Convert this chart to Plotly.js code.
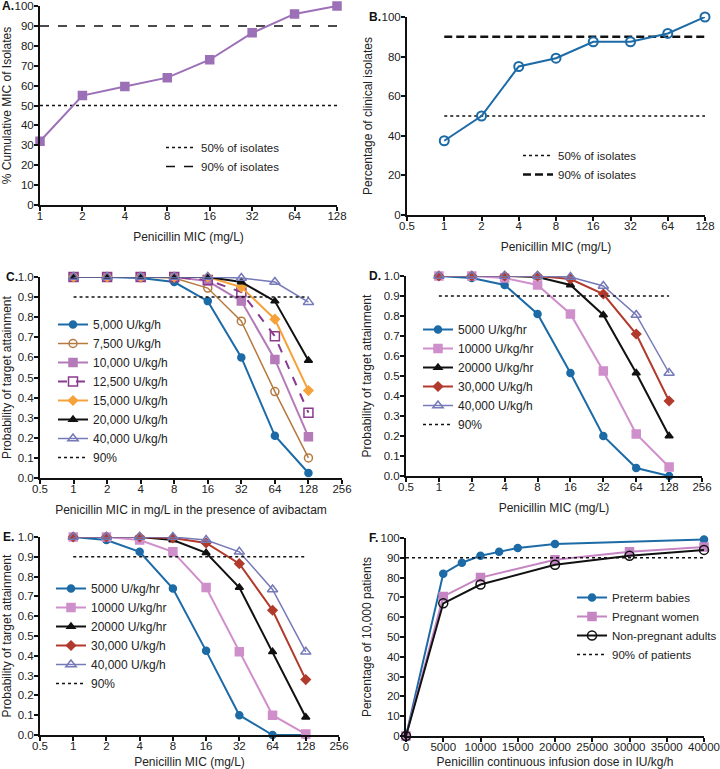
<!DOCTYPE html>
<html>
<head>
<meta charset="utf-8">
<script src="https://cdn.plot.ly/plotly-3.0.1.min.js"></script>
<style>html,body{margin:0;padding:0;background:#fff}#chart{width:720px;height:769px}</style>
</head>
<body>
<div id="chart"></div>
<script>
// ---- Data ----
const mic = [1, 2, 4, 8, 16, 32, 64, 128];
const micTicksA = [1, 2, 4, 8, 16, 32, 64, 128];
const micTicks = [0.5, 1, 2, 4, 8, 16, 32, 64, 128, 256];

// Panel A
const cumMicA = [32, 55, 59.5, 64, 73, 86.5, 96, 100];
// Panel B
const pctB = [37.5, 50, 75, 79.2, 87.5, 87.5, 91.7, 100];
// Panel C
const c5000 = [1, 1, 0.995, 0.975, 0.88, 0.60, 0.21, 0.025];
const c7500 = [1, 1, 1, 0.995, 0.945, 0.78, 0.43, 0.10];
const c10000 = [1, 1, 1, 1, 0.98, 0.88, 0.59, 0.205];
const c12500 = [1, 1, 1, 1, 0.985, 0.925, 0.705, 0.325];
const c15000 = [1, 1, 1, 1, 1, 0.95, 0.79, 0.435];
const c20000 = [1, 1, 1, 1, 1, 0.975, 0.88, 0.585];
const c40000 = [1, 1, 1, 1, 1, 0.995, 0.975, 0.875];
const cLabels = ["5,000 U/kg/h", "7,500 U/kg/h", "10,000 U/kg/h", "12,500 U/kg/h", "15,000 U/kg/h", "20,000 U/kg/h", "40,000 U/kg/h"];
// Panel D
const d5000 = [1, 0.99, 0.955, 0.81, 0.515, 0.20, 0.04, 0.0];
const d10000 = [1, 1, 0.99, 0.955, 0.81, 0.525, 0.21, 0.045];
const d20000 = [1, 1, 1, 0.995, 0.955, 0.805, 0.515, 0.20];
const d30000 = [1, 1, 1, 1, 0.985, 0.91, 0.71, 0.375];
const d40000 = [1, 1, 1, 1, 0.995, 0.95, 0.805, 0.515];
// Panel E
const e5000 = [1, 0.985, 0.925, 0.74, 0.425, 0.10, 0.0, 0.0];
const e10000 = [1, 1, 0.985, 0.925, 0.745, 0.42, 0.10, 0.005];
const e20000 = [1, 1, 1, 0.985, 0.92, 0.745, 0.42, 0.09];
const e30000 = [1, 1, 1, 0.995, 0.97, 0.865, 0.63, 0.28];
const e40000 = [1, 1, 1, 1, 0.985, 0.925, 0.735, 0.42];
const deLabels = ["5000 U/kg/hr", "10000 U/kg/hr", "20000 U/kg/hr", "30,000 U/kg/h", "40,000 U/kg/h"];
// Panel F
const doseBabies = [0, 5000, 7500, 10000, 12500, 15000, 20000, 40000];
const preterm = [0, 82, 87.5, 91, 93, 95, 97, 99.3];
const doseAdults = [0, 5000, 10000, 20000, 30000, 40000];
const pregnant = [0, 70.5, 80, 89, 93, 95.5];
const nonPregnant = [0, 67, 76.5, 86.5, 91, 94];
const doseTicks = [0, 5000, 10000, 15000, 20000, 25000, 30000, 35000, 40000];

// reference lines
const refMic = [1, 128];
const refDose = [0, 40000];

// ---- Styles ----
const BLUE = '#1c6aa6', BROWN = '#b57a40', LILAC = '#b57bb9', PURPLE = '#8a3b8e',
      ORANGE = '#f6a23b', BLACK = '#111111', LAV = '#7679b8', PINK = '#cf8fcb',
      RED = '#b23a2c', APURPLE = '#9c70b7', FPINK = '#c585c3';
const W = 720, H = 769;
const px = v => v / W, py = v => 1 - v / H;

function tr(x, y, name, xa, ya, leg, color, symbol, size, opts) {
  opts = opts || {};
  return {
    x: x, y: y, name: name, type: 'scatter', mode: opts.mode || 'lines+markers',
    xaxis: xa, yaxis: ya, legend: leg, cliponaxis: false,
    line: {color: color, width: opts.lw || 2, dash: opts.dash || 'solid'},
    marker: {color: color, symbol: symbol, size: size, line: {color: color, width: opts.mlw || 1.5}},
    showlegend: opts.showlegend !== false, legendgroup: leg + name
  };
}
function ref(x, y, name, xa, ya, leg, dash, w, show) {
  return {x: x, y: y, name: name, type: 'scatter', mode: 'lines', xaxis: xa, yaxis: ya, legend: leg,
    line: {color: BLACK, width: w || 1.5, dash: dash}, showlegend: show !== false, legendgroup: leg + name};
}

const data = [
  // A
  ref(refMic, [50, 50], '50% of isolates', 'x', 'y', 'legend', 'dot'),
  ref(refMic, [90, 90], '90% of isolates', 'x', 'y', 'legend', 'dash'),
  tr(mic, cumMicA, 'Cumulative MIC', 'x', 'y', 'legend', APURPLE, 'square', 8, {showlegend: false}),
  // B
  ref(refMic, [50, 50], '50% of isolates', 'x2', 'y2', 'legend2', 'dot'),
  ref(refMic, [90, 90], '90% of isolates', 'x2', 'y2', 'legend2', '8px,4px', 2.5),
  tr(mic, pctB, 'Clinical isolates', 'x2', 'y2', 'legend2', BLUE, 'circle-open', 9, {showlegend: false, mlw: 2}),
  // C
  tr(mic, c5000, cLabels[0], 'x3', 'y3', 'legend3', BLUE, 'circle', 7),
  tr(mic, c7500, cLabels[1], 'x3', 'y3', 'legend3', BROWN, 'circle-open', 8, {lw: 1.5}),
  tr(mic, c10000, cLabels[2], 'x3', 'y3', 'legend3', LILAC, 'square', 8),
  tr(mic, c12500, cLabels[3], 'x3', 'y3', 'legend3', PURPLE, 'square-open', 9, {dash: 'dash'}),
  tr(mic, c15000, cLabels[4], 'x3', 'y3', 'legend3', ORANGE, 'diamond', 7),
  tr(mic, c20000, cLabels[5], 'x3', 'y3', 'legend3', BLACK, 'triangle-up', 7),
  tr(mic, c40000, cLabels[6], 'x3', 'y3', 'legend3', LAV, 'triangle-up-open', 9, {lw: 1.5}),
  ref(refMic, [0.9, 0.9], '90%', 'x3', 'y3', 'legend3', 'dot'),
  // D
  tr(mic, d5000, deLabels[0], 'x4', 'y4', 'legend4', BLUE, 'circle', 7),
  tr(mic, d10000, deLabels[1], 'x4', 'y4', 'legend4', PINK, 'square', 8),
  tr(mic, d20000, deLabels[2], 'x4', 'y4', 'legend4', BLACK, 'triangle-up', 7),
  tr(mic, d30000, deLabels[3], 'x4', 'y4', 'legend4', RED, 'diamond', 7),
  tr(mic, d40000, deLabels[4], 'x4', 'y4', 'legend4', LAV, 'triangle-up-open', 9, {lw: 1.5}),
  ref(refMic, [0.9, 0.9], '90%', 'x4', 'y4', 'legend4', 'dot'),
  // E
  tr(mic, e5000, deLabels[0], 'x5', 'y5', 'legend5', BLUE, 'circle', 7),
  tr(mic, e10000, deLabels[1], 'x5', 'y5', 'legend5', PINK, 'square', 8),
  tr(mic, e20000, deLabels[2], 'x5', 'y5', 'legend5', BLACK, 'triangle-up', 7),
  tr(mic, e30000, deLabels[3], 'x5', 'y5', 'legend5', RED, 'diamond', 7),
  tr(mic, e40000, deLabels[4], 'x5', 'y5', 'legend5', LAV, 'triangle-up-open', 9, {lw: 1.5}),
  ref(refMic, [0.9, 0.9], '90%', 'x5', 'y5', 'legend5', 'dot'),
  // F
  tr(doseBabies, preterm, 'Preterm babies', 'x6', 'y6', 'legend6', BLUE, 'circle', 7),
  tr(doseAdults, pregnant, 'Pregnant women', 'x6', 'y6', 'legend6', FPINK, 'square', 8),
  tr(doseAdults, nonPregnant, 'Non-pregnant adults', 'x6', 'y6', 'legend6', BLACK, 'circle-open', 9, {mlw: 1.5}),
  ref(refDose, [90, 90], '90% of patients', 'x6', 'y6', 'legend6', 'dot')
];

const FONT = 'Liberation Sans, Arial, sans-serif';
const TICKF = {size: 11.5, color: '#222'};
const TITLEF = {size: 12, color: '#222'};
function xax(x0, x1, anchor, type, range, tickvals, title, extra) {
  return Object.assign({
    domain: [px(x0), px(x1)], anchor: anchor, type: type, range: range,
    tickmode: 'array', tickvals: tickvals, ticktext: tickvals.map(String), tickangle: 0,
    ticklabeloverflow: 'allow', ticklabelstandoff: -5,
    showline: true, linecolor: BLACK, linewidth: 2, ticks: 'outside', ticklen: 4, tickwidth: 2, tickcolor: BLACK,
    showgrid: false, zeroline: false, tickfont: TICKF,
    title: {text: title, font: TITLEF, standoff: 12}
  }, extra || {});
}
function yax(top, bottom, anchor, range, dtick, title, fmt) {
  return {
    domain: [py(bottom), py(top)], anchor: anchor, range: range, dtick: dtick, tick0: 0, tickformat: fmt || '',
    ticklabeloverflow: 'allow', ticklabelstandoff: -2,
    showline: true, linecolor: BLACK, linewidth: 2, ticks: 'outside', ticklen: 4, tickwidth: 2, tickcolor: BLACK,
    showgrid: false, zeroline: false, tickfont: TICKF,
    title: {text: title, font: TITLEF}
  };
}
const lg = (x, top, size) => ({x: px(x), y: py(top), xanchor: 'left', yanchor: 'top', bgcolor: 'rgba(0,0,0,0)',
  font: {size: size || 12, color: '#222'}, itemwidth: 30, tracegroupgap: 0});
const letter = (t, x, y) => ({text: '<b>' + t + '</b>', xref: 'paper', yref: 'paper', x: px(x), y: py(y),
  xanchor: 'left', yanchor: 'middle', showarrow: false, font: {size: 12, color: '#111'}});

const L2 = Math.log10;
const layout = {
  width: W, height: H, margin: {l: 0, r: 0, t: 0, b: 0, autoexpand: false}, paper_bgcolor: '#fff', plot_bgcolor: '#fff',
  font: {family: FONT, color: '#222'}, showlegend: true,
  xaxis: xax(40, 337, 'y', 'log', [0, L2(128)], micTicksA, 'Penicillin MIC (mg/L)'),
  yaxis: yax(6, 205, 'x', [0, 100], 10, '% Cumulative MIC of Isolates'),
  xaxis2: xax(407, 705, 'y2', 'log', [L2(0.5), L2(128)], [0.5].concat(micTicksA), 'Penicillin MIC (mg/L)'),
  yaxis2: yax(17, 215, 'x2', [0, 100], 20, 'Percentage of clinical isolates'),
  xaxis3: xax(40, 342, 'y3', 'log', [L2(0.5), L2(256)], micTicks, 'Penicillin MIC in mg/L in the presence of avibactam'),
  yaxis3: yax(277, 478, 'x3', [0, 1], 0.1, 'Probability of target attainment', '.1f'),
  xaxis4: xax(406, 702, 'y4', 'log', [L2(0.5), L2(256)], micTicks, 'Penicillin MIC (mg/L)'),
  yaxis4: yax(276, 476, 'x4', [0, 1], 0.1, 'Probability of target attainment', '.1f'),
  xaxis5: xax(40, 339, 'y5', 'log', [L2(0.5), L2(256)], micTicks, 'Penicillin MIC (mg/L)'),
  yaxis5: yax(537, 735, 'x5', [0, 1], 0.1, 'Probability of target attainment', '.1f'),
  xaxis6: xax(406, 704, 'y6', 'linear', [0, 40000], doseTicks, 'Penicillin continuous infusion dose in IU/kg/h'),
  yaxis6: yax(538, 736, 'x6', [0, 100], 10, 'Percentage of 10,000 patients'),
  legend: lg(161, 133, 11.5),
  legend2: lg(518, 141, 11.5),
  legend3: lg(53, 310),
  legend4: lg(418, 315),
  legend5: lg(51, 574),
  legend6: lg(572, 583, 11.5),
  annotations: [
    letter('A.', 0, 6), letter('B.', 367, 17), letter('C.', 4, 277),
    letter('D.', 367, 276), letter('E.', 1, 537), letter('F.', 367, 538)
  ]
};

Plotly.newPlot('chart', data, layout, {displayModeBar: false, staticPlot: true});
</script>
</body>
</html>
